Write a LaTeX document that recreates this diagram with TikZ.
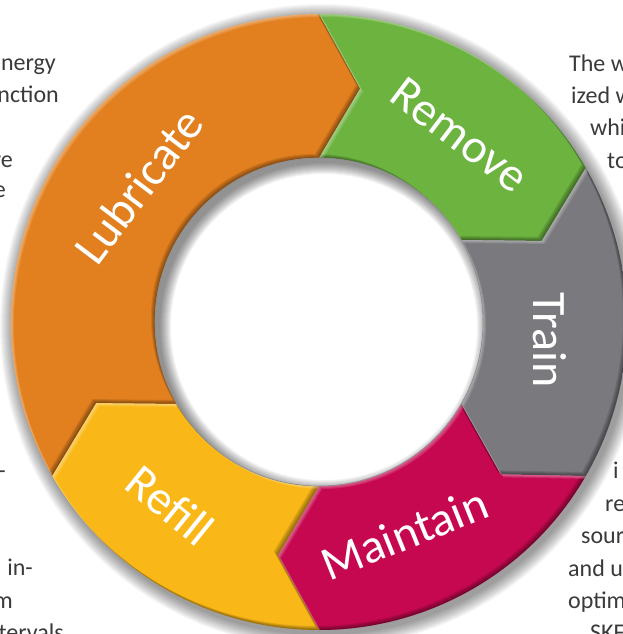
\documentclass[tikz,border=0pt]{standalone}
\usepackage{fontspec}
\setmainfont{Carlito}
\definecolor{cOr}{RGB}{226,128,31}
\definecolor{cGr}{RGB}{108,179,63}
\definecolor{cGy}{RGB}{121,121,126}
\definecolor{cMg}{RGB}{198,8,80}
\definecolor{cYe}{RGB}{250,184,24}
\definecolor{txt}{RGB}{58,58,58}
% ring segment path: #1 start angle (notch side), #2 end angle (tip side)
\newcommand\ringseg[2]{(#1:308) arc[start angle=#1, end angle=#2, radius=308] -- (#2-10:237) -- (#2:164) arc[start angle=#2, end angle=#1, radius=164] -- (#1-10:237) -- cycle}
\newcommand\drawseg[3]{%
  \fill[#3] \ringseg{#1}{#2};
  \begin{scope}
    \clip \ringseg{#1}{#2};
    \foreach \d in {1,2,3,4} {
      \begin{scope}[shift={(-\d,\d)}]
        \fill[black,opacity=0.11,even odd rule] (-700,-700) rectangle (700,700) \ringseg{#1}{#2};
      \end{scope}
    }
    \foreach \d in {1,2,3} {
      \begin{scope}[shift={(\d,-\d)}]
        \fill[white,opacity=0.13,even odd rule] (-700,-700) rectangle (700,700) \ringseg{#1}{#2};
      \end{scope}
    }
  \end{scope}}
\tikzset{
  lab/.style={text=white, font=\fontsize{48}{54}\selectfont, inner sep=0pt},
  side/.style={text=txt, font=\fontsize{24}{29}\selectfont, inner sep=0pt},
  sideL/.style={side, anchor=base east},
  sideR/.style={side, anchor=base west}
}
\begin{document}
\begin{tikzpicture}[x=1pt,y=1pt]
\clip (-319,-312) rectangle (304,322);
\fill[white] (-319,-312) rectangle (304,322);
% side texts (cropped body text)
\node[sideL] (l1) at (-263,251) {energy};
\node[sideL] (l2) at (-260,219) {nction};
\node[sideL] (l3) at (-306,154) {re};
\node[sideL] (l4) at (-313,124) {e};
\node[sideL] (l5) at (-313,-156) {-};
\node[sideL] (l6) at (-286,-253) {in-};
\node[sideL] (l7) at (-306,-286) {m};
\node[sideL] (l8) at (-255,-318) {tervals};
\node[sideR] (r1) at (250,250) {The w};
\node[sideR] (r2) at (252,218) {ized w};
\node[sideR] (r3) at (271,186) {whi};
\node[sideR] (r4) at (288,153) {to};
\node[sideR] (r5) at (294,-156) {i};
\node[sideR] (r6) at (286,-189) {re};
\node[sideR] (r7) at (262,-221) {sour};
\node[sideR] (r8) at (249,-254) {and u};
\node[sideR] (r9) at (249,-286) {optim};
\node[sideR] (r10) at (271,-318) {SKF};
% outer soft shadow
\foreach \k in {0,...,13} {
  \fill[black,opacity=0.03] (3,-4) circle ({308+14-\k});
}
% segments
\drawseg{210}{90}{cOr}
\drawseg{90}{30}{cGr}
\drawseg{30}{-30}{cGy}
\drawseg{-30}{-90}{cMg}
\drawseg{-90}{-150}{cYe}
% hole with inner shadow
\fill[white] (0,0) circle (164);
\begin{scope}
  \clip (0,0) circle (164);
  \foreach \k in {0,...,11} {
    \fill[black,opacity=0.045,even odd rule] (0,0) circle (200) (5,-5) circle ({164-\k});
  }
\end{scope}
\draw[black!45,line width=0.6] (0,0) circle (164);
% labels
\node[lab, rotate=53] (lub) at (143:226) {Lubricate};
\node[lab, rotate=-37] (rem) at (53:234) {Remove};
\node[lab, rotate=-90] (tra) at (-4.5:232) {Train};
\node[lab, rotate=22] (mai) at (-68:228) {Maintain};
\node[lab, rotate=-39] (ref) at (-129:236) {Refill};
\end{tikzpicture}
\end{document}
